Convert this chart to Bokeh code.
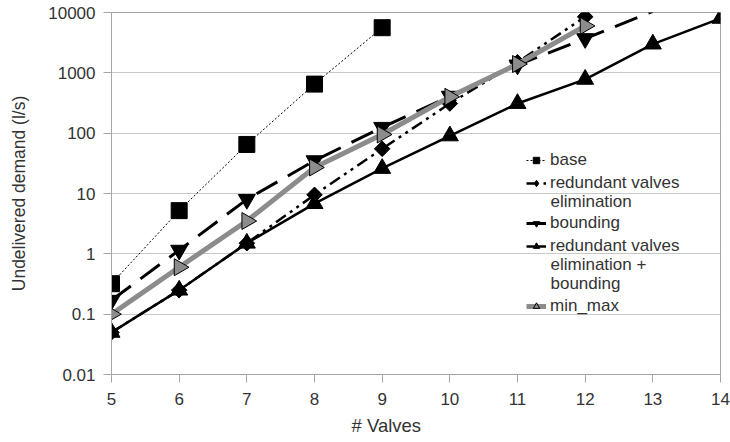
import math
from bokeh.plotting import figure
from bokeh.models import FixedTicker, CustomJSTickFormatter, Legend, LegendItem, Label, Title
from bokeh.embed import file_html
from bokeh.resources import INLINE

# ---- data ----
base_x = [5, 6, 7, 8, 9]
base_y = [0.32, 5.2, 65, 650, 5600]

rve_x = [5, 6, 7, 8, 9, 10, 11, 12]
rve_y = [0.05, 0.25, 1.5, 9.5, 55, 310, 1500, 8500]

bnd_x = [5, 6, 7, 8, 9, 10, 11, 12, 13]
bnd_y = [0.17, 1.15, 8, 35, 125, 410, 1350, 3700, 10400]

rvb_x = [5, 6, 7, 8, 9, 10, 11, 12, 13, 14]
rvb_y = [0.05, 0.25, 1.5, 6.8, 26, 90, 310, 780, 3000, 8000]

mm_x = [5, 6, 7, 8, 9, 10, 11, 12]
mm_y = [0.1, 0.6, 3.5, 27, 95, 400, 1400, 6000]

x_ticks = [5, 6, 7, 8, 9, 10, 11, 12, 13, 14]
y_ticks = [0.01, 0.1, 1, 10, 100, 1000, 10000]

# legend labels: first line + continuation lines
labels = [
    ["base"],
    ["redundant valves", "elimination"],
    ["bounding"],
    ["redundant valves", "elimination +", "bounding"],
    ["min_max"],
]

FONT = "Liberation Sans"
AX = "#a6a6a6"
TXT = "#333333"
LEG_FS = "17px"

p = figure(width=730, height=442, y_axis_type="log",
           x_range=(5, 14), y_range=(0.01, 10000),
           output_backend="svg", toolbar_location=None, title=None,
           min_border_left=111, min_border_right=10,
           min_border_top=12, min_border_bottom=68)
p.background_fill_color = "white"
p.border_fill_color = "white"
p.outline_line_color = AX
p.outline_line_width = 1

p.xgrid.visible = False
p.ygrid.grid_line_color = "#c8c8c8"
p.ygrid.grid_line_width = 1
p.ygrid.ticker = FixedTicker(ticks=y_ticks)

p.xaxis.ticker = FixedTicker(ticks=x_ticks)
p.yaxis.ticker = FixedTicker(ticks=y_ticks)
p.yaxis.formatter = CustomJSTickFormatter(code="return tick.toString();")
for ax in (p.xaxis, p.yaxis):
    ax.axis_line_color = AX
    ax.major_tick_line_color = AX
    ax.major_tick_out = 8
    ax.major_tick_in = 0
    ax.minor_tick_line_color = None
    ax.major_label_text_font = FONT
    ax.major_label_text_font_size = "17px"
    ax.major_label_text_color = TXT
    ax.major_label_standoff = 8
    ax.axis_label_text_font = FONT
    ax.axis_label_text_font_style = "normal"
    ax.axis_label_text_color = TXT
p.xaxis.major_label_standoff = 10

p.yaxis.axis_label = "Undelivered demand (l/s)"
p.yaxis.axis_label_text_font_size = "17.5px"
p.yaxis.axis_label_standoff = 16

# x axis title, placed slightly left of centre as in the reference
p.add_layout(Title(text="# Valves", align="left", offset=240, standoff=10,
                   text_font=FONT, text_font_size="18.5px",
                   text_font_style="normal", text_color=TXT), "below")

# ---- series ----
r_base_l = p.line(base_x, base_y, line_color="black", line_width=1, line_dash="2 2")
r_base_m = p.scatter(base_x, base_y, marker="square", size=16, fill_color="black",
                     line_color="black")

r_rve_l = p.line(rve_x, rve_y, line_color="black", line_width=2.5,
                 line_dash="12 5 3 5 3 5")
# diamond under the rotated squares: only shows in the legend
r_rve_leg = p.scatter(rve_x, rve_y, marker="diamond", size=14,
                      fill_color="black", line_color="black")
r_rve_m = p.scatter(rve_x, rve_y, marker="square", angle=math.pi / 4, size=11,
                    fill_color="black", line_color="black")

r_bnd_l = p.line(bnd_x, bnd_y, line_color="black", line_width=3, line_dash="24 12")
r_bnd_m = p.scatter(bnd_x[:8], bnd_y[:8], marker="inverted_triangle", size=17,
                    fill_color="black", line_color="black")

r_rvb_l = p.line(rvb_x, rvb_y, line_color="black", line_width=2.5)
r_rvb_m = p.scatter(rvb_x, rvb_y, marker="triangle", size=17,
                    fill_color="black", line_color="black")

r_mm_l = p.line(mm_x, mm_y, line_color="#8c8c8c", line_width=5)
r_mm_m = p.scatter(mm_x, mm_y, marker="triangle", angle=-math.pi / 2, size=17,
                   fill_color="#8c8c8c", line_color="black", line_width=1)

renderer_sets = [
    [r_base_l, r_base_m],
    [r_rve_l, r_rve_leg],
    [r_bnd_l, r_bnd_m],
    [r_rvb_l, r_rvb_m],
    [r_mm_l, r_mm_m],
]

# legend layout (pixels, relative to the plot frame's bottom-left)
leg_x = 415
first_line_y = [215, 192, 152, 129, 69]   # centre of each entry's first line
line_step = 19
item_h = 18
text_x = leg_x + 20 + 4

for lines, rs, yc in zip(labels, renderer_sets, first_line_y):
    lg = Legend(items=[LegendItem(label=lines[0], renderers=rs)],
                location=(leg_x, yc - item_h // 2 - 2),
                background_fill_alpha=0, border_line_alpha=0,
                label_text_font=FONT, label_text_font_size=LEG_FS,
                label_text_color=TXT, glyph_width=20, glyph_height=16,
                label_standoff=4, spacing=0, padding=0, margin=0,
                label_height=item_h)
    p.add_layout(lg)
    for k, extra in enumerate(lines[1:], start=1):
        p.add_layout(Label(x=text_x, y=yc - k * line_step,
                           x_units="screen", y_units="screen",
                           text=extra, text_align="left", text_baseline="middle",
                           text_font=FONT, text_font_size=LEG_FS, text_color=TXT))

open("out.html", "w").write(file_html(p, INLINE))
